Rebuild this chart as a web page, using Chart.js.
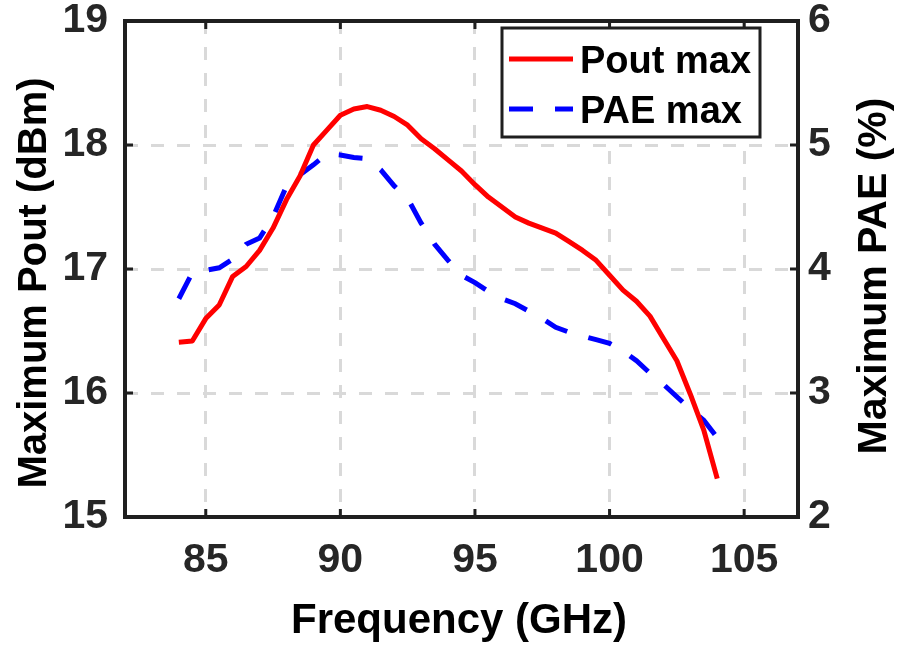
<!DOCTYPE html>
<html>
<head>
<meta charset="utf-8">
<script src="https://cdn.jsdelivr.net/npm/chart.js@4.4.1/dist/chart.umd.min.js"></script>
<style>
  html, body { margin: 0; padding: 0; background: #fff; }
  #wrap { width: 900px; height: 646px; }
</style>
</head>
<body>
<div id="wrap"><canvas id="c" width="900" height="646"></canvas></div>
<script>
// --- data (0.5 GHz steps) ---
const freq = [84, 84.5, 85, 85.5, 86, 86.5, 87, 87.5, 88, 88.5, 89, 89.5, 90, 90.5, 91, 91.5,
              92, 92.5, 93, 93.5, 94, 94.5, 95, 95.5, 96, 96.5, 97, 97.5, 98, 98.5, 99, 99.5,
              100, 100.5, 101, 101.5, 102, 102.5, 103, 103.5, 104];
const poutMax = [16.41, 16.42, 16.60, 16.71, 16.94, 17.02, 17.15, 17.33, 17.56, 17.75, 18.00, 18.12,
                 18.24, 18.29, 18.31, 18.28, 18.23, 18.16, 18.05, 17.97, 17.88, 17.79, 17.68, 17.58,
                 17.50, 17.42, 17.37, 17.33, 17.29, 17.22, 17.15, 17.07, 16.95, 16.83, 16.74, 16.62,
                 16.44, 16.26, 15.99, 15.70, 15.31];
const paeMax = [3.76, 3.97, 3.99, 4.01, 4.08, 4.20, 4.25, 4.42, 4.67, 4.76, 4.84, 4.93,
                4.92, 4.90, 4.89, 4.80, 4.67, 4.57, 4.37, 4.20, 4.07, 3.95, 3.89, 3.82,
                3.76, 3.72, 3.66, 3.60, 3.53, 3.49, 3.46, 3.43, 3.40, 3.34, 3.26, 3.16,
                3.07, 2.97, 2.87, 2.78, 2.64];

const xTicks = [85, 90, 95, 100, 105];
const poutTicks = [15, 16, 17, 18, 19];
const paeTicks = [2, 3, 4, 5, 6];

const FONT = '"Liberation Sans", Arial, Helvetica, sans-serif';
const AXIS = '#1f1f1f';
const GRID = '#d9d9d9';

// frame with inward ticks, rotated/bottom titles and a MATLAB-style legend box
const decorPlugin = {
    id: 'decor',
    afterDatasetsDraw(chart) {
        const { ctx, chartArea: a, scales } = chart;
        ctx.save();

        ctx.strokeStyle = AXIS;
        ctx.lineWidth = 4;
        ctx.strokeRect(a.left, a.top, a.right - a.left, a.bottom - a.top);

        const t = 8;
        ctx.lineWidth = 3;
        ctx.beginPath();
        xTicks.forEach(v => {
            const x = scales.x.getPixelForValue(v);
            ctx.moveTo(x, a.bottom); ctx.lineTo(x, a.bottom - t);
            ctx.moveTo(x, a.top);    ctx.lineTo(x, a.top + t);
        });
        poutTicks.forEach(v => {
            const y = scales.yL.getPixelForValue(v);
            ctx.moveTo(a.left, y); ctx.lineTo(a.left + t, y);
        });
        paeTicks.forEach(v => {
            const y = scales.yR.getPixelForValue(v);
            ctx.moveTo(a.right, y); ctx.lineTo(a.right - t, y);
        });
        ctx.stroke();

        // axis titles
        ctx.fillStyle = '#000';
        ctx.font = 'bold 42px ' + FONT;
        ctx.textAlign = 'center';
        ctx.textBaseline = 'alphabetic';
        ctx.fillText('Frequency (GHz)', 459, 633);

        ctx.textBaseline = 'middle';
        [[35, 283, 40, 'Maximum Pout (dBm)'], [875, 276, 41, 'Maximum PAE (%)']].forEach(([x, y, size, txt]) => {
            ctx.save();
            ctx.translate(x, y);
            ctx.rotate(-Math.PI / 2);
            ctx.font = 'bold ' + size + 'px ' + FONT;
            ctx.fillText(txt, 0, 0);
            ctx.restore();
        });

        // legend
        const box = { l: 502, t: 28, r: 760, b: 137 };
        ctx.fillStyle = '#fff';
        ctx.fillRect(box.l, box.t, box.r - box.l, box.b - box.t);
        ctx.strokeStyle = AXIS;
        ctx.lineWidth = 3;
        ctx.strokeRect(box.l, box.t, box.r - box.l, box.b - box.t);
        const rows = [59, 109];
        chart.data.datasets.forEach((ds, i) => {
            const y = rows[i];
            ctx.strokeStyle = ds.borderColor;
            ctx.lineWidth = ds.borderWidth;
            ctx.lineCap = 'butt';
            ctx.setLineDash(ds.borderDash || []);
            ctx.beginPath();
            ctx.moveTo(509, y); ctx.lineTo(573, y);
            ctx.stroke();
            ctx.setLineDash([]);
            ctx.fillStyle = '#000';
            ctx.font = 'bold 38px ' + FONT;
            ctx.textAlign = 'left';
            ctx.textBaseline = 'alphabetic';
            ctx.fillText(ds.label, 580, y + 14);
        });

        ctx.restore();
    }
};

const tickFont = { family: FONT, size: 41, weight: 'bold' };

new Chart(document.getElementById('c'), {
    type: 'line',
    data: {
        datasets: [
            {
                label: 'Pout max',
                data: freq.map((f, i) => ({ x: f, y: poutMax[i] })),
                yAxisID: 'yL',
                borderColor: '#ff0000',
                borderWidth: 5,
                borderJoinStyle: 'round',
                pointRadius: 0,
                tension: 0,
                fill: false
            },
            {
                label: 'PAE max',
                data: freq.map((f, i) => ({ x: f, y: paeMax[i] })),
                yAxisID: 'yR',
                borderColor: '#0000ff',
                borderWidth: 5,
                borderDash: [24, 22],
                borderCapStyle: 'butt',
                pointRadius: 0,
                tension: 0,
                fill: false
            }
        ]
    },
    options: {
        responsive: false,
        animation: false,
        devicePixelRatio: 1,
        layout: { padding: { top: 21, left: 0, right: 0, bottom: 0 } },
        plugins: { legend: { display: false }, tooltip: { enabled: false } },
        scales: {
            x: {
                type: 'linear', position: 'bottom', min: 82, max: 107,
                afterBuildTicks: s => { s.ticks = xTicks.map(v => ({ value: v })); },
                afterFit: s => { s.height = 129; s.paddingLeft = 0; s.paddingRight = 0; },
                grid: { color: GRID, lineWidth: 3, drawTicks: false },
                border: { display: false, dash: [13, 13] },
                ticks: { color: '#262626', font: tickFont, padding: 19, maxRotation: 0 }
            },
            yL: {
                type: 'linear', position: 'left', min: 15, max: 19,
                afterBuildTicks: s => { s.ticks = poutTicks.map(v => ({ value: v })); },
                afterFit: s => { s.width = 125; s.paddingTop = 0; s.paddingBottom = 0; },
                grid: { color: GRID, lineWidth: 3, drawTicks: false },
                border: { display: false, dash: [13, 13] },
                ticks: { color: '#262626', font: tickFont, padding: 17 }
            },
            yR: {
                type: 'linear', position: 'right', min: 2, max: 6,
                afterBuildTicks: s => { s.ticks = paeTicks.map(v => ({ value: v })); },
                afterFit: s => { s.width = 102; s.paddingTop = 0; s.paddingBottom = 0; },
                grid: { display: false, drawTicks: false },
                border: { display: false },
                ticks: { color: '#262626', font: tickFont, padding: 10 }
            }
        }
    },
    plugins: [decorPlugin]
});
</script>
</body>
</html>
